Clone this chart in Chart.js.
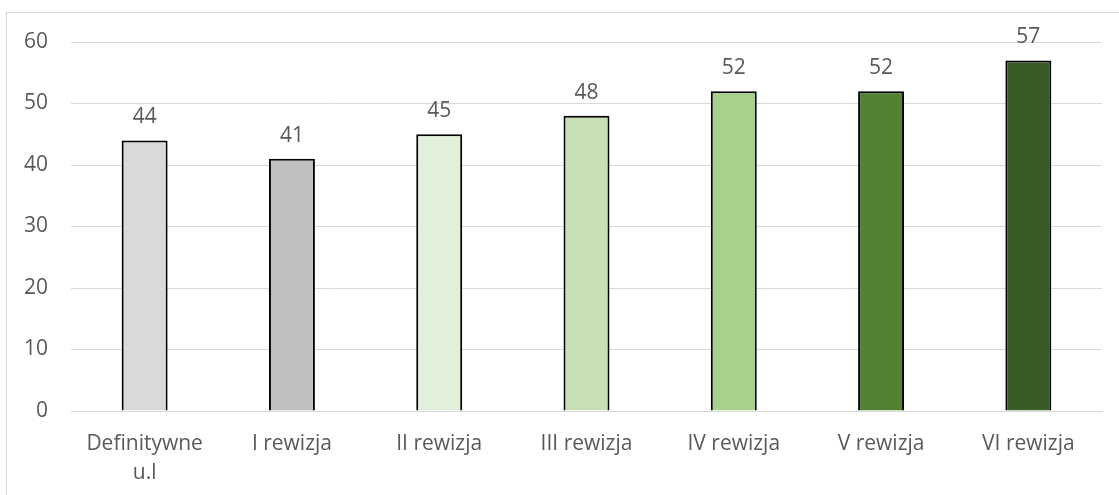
<!DOCTYPE html>
<html lang="pl">
<head>
    <meta charset="UTF-8">
    <title>Rewizje</title>
    <script src="https://cdn.jsdelivr.net/npm/chart.js"></script>
    <style>
        html, body { margin: 0; padding: 0; background: #fff; overflow: hidden; }
        #frame {
            position: absolute; left: 6px; top: 12px;
            width: 1300px; height: 700px;
            border: 1px solid #d9d9d9;
        }
        #wrap { position: absolute; left: 0; top: 0; width: 1119px; height: 495px; }
    </style>
</head>
<body>
    <div id="frame"></div>
    <div id="wrap"><canvas id="chart"></canvas></div>

    <script>
        // dane wykresu
        const categories = [['Definitywne', 'u.l'], 'I rewizja', 'II rewizja', 'III rewizja', 'IV rewizja', 'V rewizja', 'VI rewizja'];
        const values = [44, 41, 45, 48, 52, 52, 57];
        const barColors = ['#d9d9d9', '#bfbfbf', '#e2efda', '#c6e0b4', '#a9d18e', '#548235', '#3a5a26'];
        const yTicks = [0, 10, 20, 30, 40, 50, 60];

        const FONT = '"Open Sans", sans-serif';
        const TEXT = '#595959';

        // wartości nad słupkami
        const valueLabels = {
            id: 'valueLabels',
            afterDatasetsDraw(chart) {
                const ctx = chart.ctx;
                const meta = chart.getDatasetMeta(0);
                ctx.save();
                ctx.font = '21px ' + FONT;
                ctx.fillStyle = TEXT;
                ctx.textAlign = 'center';
                ctx.textBaseline = 'alphabetic';
                meta.data.forEach((bar, i) => {
                    ctx.fillText(String(values[i]), bar.x, bar.y - 17);
                });
                ctx.restore();
            }
        };

        const ctx = document.getElementById('chart').getContext('2d');
        new Chart(ctx, {
            type: 'bar',
            data: {
                labels: categories,
                datasets: [{
                    data: values,
                    backgroundColor: barColors,
                    borderColor: '#000',
                    borderWidth: 2,
                    borderSkipped: 'bottom',
                    barPercentage: 0.312,
                    categoryPercentage: 1
                }]
            },
            options: {
                responsive: true,
                maintainAspectRatio: false,
                animation: false,
                layout: { padding: { left: 0, right: 17, top: 42, bottom: 0 } },
                plugins: {
                    legend: { display: false },
                    tooltip: { enabled: false }
                },
                scales: {
                    x: {
                        grid: { display: false, drawTicks: false },
                        border: { color: '#d9d9d9', width: 1 },
                        ticks: {
                            color: TEXT,
                            font: { family: FONT, size: 21, lineHeight: 1.4 },
                            padding: 18,
                            maxRotation: 0,
                            autoSkip: false
                        },
                        afterFit(scale) { scale.height = 84; }
                    },
                    y: {
                        min: 0,
                        max: 60,
                        afterBuildTicks(scale) { scale.ticks = yTicks.map(v => ({ value: v })); },
                        grid: { color: '#d9d9d9', lineWidth: 1, drawTicks: false },
                        border: { display: false },
                        ticks: {
                            color: TEXT,
                            font: { family: FONT, size: 21 },
                            padding: 23
                        },
                        afterFit(scale) { scale.width = 71; }
                    }
                }
            },
            plugins: [valueLabels]
        });
    </script>
</body>
</html>
